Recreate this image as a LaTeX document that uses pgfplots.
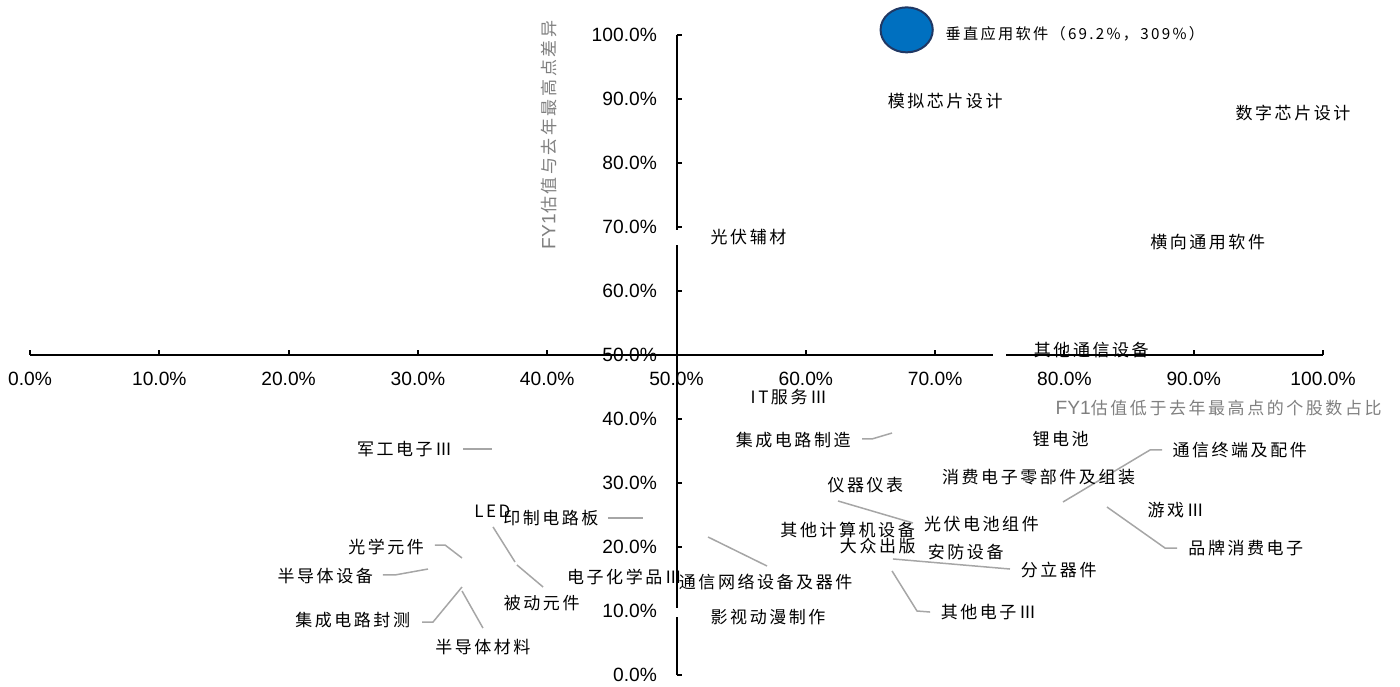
\documentclass[border=0pt]{standalone}
\usepackage{fontspec}
\setmainfont{Liberation Sans}
\newfontfamily\cjk{Noto Sans CJK SC}[LetterSpace=15]
\usepackage{pgfplots}
\usepackage{pgfplotstable}
\pgfplotsset{compat=1.18}
\definecolor{lead}{RGB}{166,166,166}
\definecolor{ttl}{RGB}{127,127,127}
\definecolor{blu}{RGB}{0,112,192}
\definecolor{navy}{RGB}{32,56,100}

\pgfplotstableread{
x y dx dy label
0.660 0.897 2 0 模拟芯片设计
0.929 0.878 2 0 数字芯片设计
0.523 0.684 2 0 光伏辅材
0.863 0.677 2 0 横向通用软件
0.773 0.508 2 0 其他通信设备
0.554 0.434 2 0 IT服务Ⅲ
0.667 0.378 -78.5 -3.5 集成电路制造
0.772 0.369 2 0 锂电池
0.799 0.270 54.5 26 通信终端及配件
0.702 0.309 2 0 消费电子零部件及组装
0.861 0.258 2 0 游戏Ⅲ
0.833 0.263 40.5 -20.5 品牌消费电子
0.683 0.238 -43 19 仪器仪表
0.577 0.227 2 0 其他计算机设备
0.688 0.236 2 0 光伏电池组件
0.623 0.202 2 0 大众出版
0.691 0.192 2 0 安防设备
0.667 0.181 64 -5.5 分立器件
0.667 0.163 24 -20.5 其他电子Ⅲ
0.524 0.216 -14.5 -22.5 通信网络设备及器件
0.523 0.091 2 0 影视动漫制作
0.357 0.353 -67.5 0 军工电子Ⅲ
0.375 0.177 -20.5 25 LED
0.474 0.245 -70 0 印制电路板
0.334 0.183 -57 5.5 光学元件
0.308 0.166 -75.5 -3.5 半导体设备
0.334 0.138 -83.5 -16.5 集成电路封测
0.334 0.131 -13.5 -28 半导体材料
0.377 0.172 -7 -19 被动元件
0.412 0.153 2 0 电子化学品Ⅲ
}\labeldata

\begin{document}
\begin{tikzpicture}
\begin{axis}[
  scale only axis, width=646.5pt, height=320pt,
  xmin=-0.5, xmax=0.5, ymin=-0.5, ymax=0.5,
  x filter/.expression={x-0.5},
  y filter/.expression={y-0.5},
  clip=false,
  axis lines=middle,
  axis line style={-, line width=1pt, black},
  hide obscured x ticks=false, hide obscured y ticks=false,
  xtick={-0.5,-0.4,-0.3,-0.2,-0.1,0,0.1,0.2,0.3,0.4,0.5},
  ytick={-0.5,-0.4,-0.3,-0.2,-0.1,0,0.1,0.2,0.3,0.4,0.5},
  xticklabel={\pgfmathparse{(\tick+0.5)*100}\pgfmathprintnumber[fixed,fixed zerofill,precision=1]{\pgfmathresult}\%},
  yticklabel={\pgfmathparse{(\tick+0.5)*100}\pgfmathprintnumber[fixed,fixed zerofill,precision=1]{\pgfmathresult}\%},
  /pgf/number format/assume math mode=true,
  tick align=inside,
  major tick length=2.5pt,
  tick style={black, line width=1pt},
  xticklabel style={font=\fontsize{9.6}{11}\selectfont, yshift=-4.8pt},
  yticklabel style={font=\fontsize{9.6}{11}\selectfont, xshift=-6.3pt},
  xlabel={\textcolor{ttl}{FY1{\cjk\fontsize{8.5}{10}\selectfont 估值低于去年最高点的个股数占比}}},
  ylabel={\textcolor{ttl}{FY1{\cjk\fontsize{8.5}{10}\selectfont 估值与去年最高点差异}}},
  xlabel style={at={(rel axis cs:1.0456,0.4172)}, anchor=east, inner sep=0pt, font=\fontsize{9.6}{11}\selectfont},
  ylabel style={at={(rel axis cs:0.4014,0.8438)}, anchor=center, rotate=90, inner sep=0pt, font=\fontsize{9.6}{11}\selectfont},
]
\coordinate (O) at (rel axis cs:0,0);
% small white breaks in the axis lines, as in the reference
\coordinate (GxA) at (axis cs:0.2448,-0.006);
\coordinate (GxB) at (axis cs:0.2548,0.006);
\coordinate (GyA) at (axis cs:-0.004,0.1719);
\coordinate (GyB) at (axis cs:0.004,0.1960);
\coordinate (GzA) at (axis cs:-0.004,-0.4094);
\coordinate (GzB) at (axis cs:0.004,-0.3953);

% leader lines
\addplot[lead, line width=0.75pt] coordinates {(0.6435,0.3688) (0.6512,0.3688) (0.6667,0.3781)};
\addplot[lead, line width=0.75pt] coordinates {(0.8755,0.3516) (0.8662,0.3516) (0.7989,0.2703)};
\addplot[lead, line width=0.75pt] coordinates {(0.8871,0.1984) (0.8778,0.1984) (0.8329,0.2625)};
\addplot[lead, line width=0.75pt] coordinates {(0.6249,0.2719) (0.6829,0.2375)};
\addplot[lead, line width=0.75pt] coordinates {(0.7579,0.1656) (0.6674,0.1813)};
\addplot[lead, line width=0.75pt] coordinates {(0.6961,0.0984) (0.6860,0.1000) (0.6667,0.1625)};
\addplot[lead, line width=0.75pt] coordinates {(0.5700,0.1703) (0.5244,0.2156)};
\addplot[lead, line width=0.75pt] coordinates {(0.3349,0.3531) (0.3573,0.3531)};
\addplot[lead, line width=0.75pt] coordinates {(0.3581,0.2313) (0.3751,0.1766)};
\addplot[lead, line width=0.75pt] coordinates {(0.4470,0.2453) (0.4741,0.2453)};
\addplot[lead, line width=0.75pt] coordinates {(0.3132,0.2031) (0.3210,0.2031) (0.3341,0.1828)};
\addplot[lead, line width=0.75pt] coordinates {(0.2730,0.1563) (0.2823,0.1563) (0.3078,0.1656)};
\addplot[lead, line width=0.75pt] coordinates {(0.3032,0.0828) (0.3117,0.0828) (0.3341,0.1375)};
\addplot[lead, line width=0.75pt] coordinates {(0.3503,0.0734) (0.3341,0.1313)};
\addplot[lead, line width=0.75pt] coordinates {(0.3968,0.1375) (0.3766,0.1719)};

% labelled points (markers hidden)
\addplot[only marks, mark=*, mark size=0pt, mark options={draw=none, fill=none, opacity=0},
  point meta=explicit symbolic,
  visualization depends on={\thisrow{dx} \as \labdx},
  visualization depends on={\thisrow{dy} \as \labdy},
  nodes near coords,
  every node near coord/.append style={anchor=west, inner sep=0pt, xshift=\labdx pt, yshift=\labdy pt,
     font=\cjk\fontsize{8.5}{10}\selectfont, text=black, opacity=1},
] table[x=x, y=y, meta=label] {\labeldata};

% the one visible marker
\addplot[only marks, mark=*, mark size=11.25pt,
  mark options={xscale=1.16, fill=blu, draw=navy, line width=1pt},
  nodes near coords={垂直应用软件（69.2\%，309\%）},
  every node near coord/.append style={anchor=west, inner sep=0pt, xshift=19pt, yshift=-1.75pt,
     font=\cjk\fontsize{7.6}{9}\selectfont, text=black},
] coordinates {(0.678,1.008)};
\end{axis}
\fill[white] (GxA) rectangle (GxB);
\fill[white] (GyA) rectangle (GyB);
\fill[white] (GzA) rectangle (GzB);
\pgfresetboundingbox
\path ([shift={(-15pt,-5.5pt)}]O) rectangle ([shift={(685pt,337.5pt)}]O);
\end{tikzpicture}
\end{document}
